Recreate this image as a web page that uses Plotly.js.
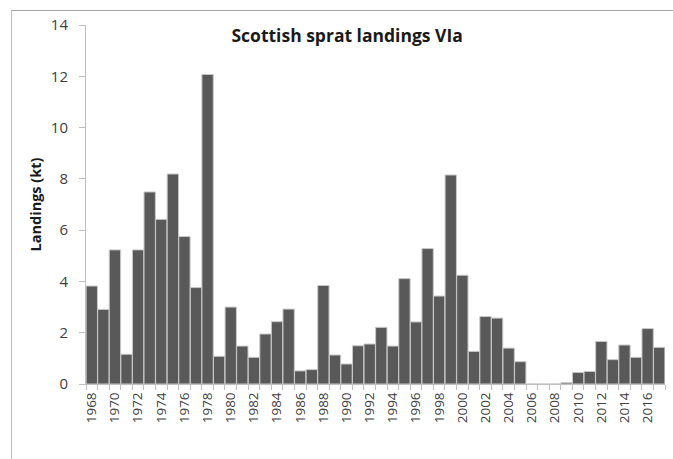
<!DOCTYPE html>
<html>
<head>
<meta charset="utf-8">
<script src="https://cdn.plot.ly/plotly-3.0.1.min.js"></script>
<style>
html,body{margin:0;padding:0;background:#fff;}
#frame{position:absolute;left:11px;top:10px;width:700px;height:500px;border-top:1px solid #a6a6a6;border-left:1px solid #bfbfbf;box-sizing:border-box;pointer-events:none;z-index:5;}
#chart{position:absolute;left:0;top:0;width:673px;height:459px;}
</style>
</head>
<body>
<div id="chart"></div>
<div id="frame"></div>
<script>
const years = [1968,1969,1970,1971,1972,1973,1974,1975,1976,1977,1978,1979,1980,1981,1982,1983,1984,1985,1986,1987,1988,1989,1990,1991,1992,1993,1994,1995,1996,1997,1998,1999,2000,2001,2002,2003,2004,2005,2006,2007,2008,2009,2010,2011,2012,2013,2014,2015,2016,2017];
const landings = [3.82,2.91,5.23,1.16,5.23,7.49,6.42,8.19,5.75,3.76,12.07,1.08,3.0,1.48,1.04,1.95,2.43,2.92,0.51,0.56,3.84,1.13,0.78,1.49,1.56,2.21,1.48,4.11,2.42,5.28,3.43,8.15,4.24,1.27,2.63,2.57,1.40,0.87,0,0,0,0.05,0.45,0.49,1.66,0.95,1.52,1.04,2.16,1.43];
const tickYears = years.filter(y => (y - 1968) % 2 === 0);
const tickText = tickYears.map(String);
const chartTitle = "Scottish sprat landings VIa";
const yTitle = "Landings (kt)";

const trace = {
  type: 'bar',
  x: years,
  y: landings,
  marker: {color: '#595959', line: {color: '#c8c8c8', width: 1}},
  hoverinfo: 'x+y'
};

const layout = {
  width: 673, height: 459,
  margin: {l: 86, r: 8, t: 25, b: 75},
  paper_bgcolor: '#ffffff',
  plot_bgcolor: '#ffffff',
  bargap: 0.02,
  showlegend: false,
  font: {family: 'Open Sans, Liberation Sans, sans-serif', color: '#404040'},
  title: {
    text: '<b>' + chartTitle + '</b>',
    font: {family: 'Open Sans, sans-serif', size: 17.5, color: '#1a1a1a'},
    x: 0.451, xanchor: 'center', y: 0.921, yanchor: 'middle', xref: 'paper'
  },
  xaxis: {
    range: [1967.5, 2017.5],
    tickmode: 'array',
    tickvals: tickYears,
    ticktext: tickText,
    tickangle: -90,
    ticks: '',
    ticklabelstandoff: 2,
    tickfont: {size: 13.5, color: '#404040'},
    showline: true, linecolor: '#bfbfbf', linewidth: 1,
    showgrid: false, zeroline: false,
    minor: {tick0: 1967.5, dtick: 1, ticks: 'outside', ticklen: 5, tickcolor: '#bfbfbf', showgrid: false}
  },
  yaxis: {
    range: [0, 14],
    dtick: 2,
    ticks: 'outside', ticklen: 6, tickcolor: '#bfbfbf',
    ticklabelstandoff: 8,
    tickfont: {size: 15, color: '#404040'},
    showline: true, linecolor: '#bfbfbf', linewidth: 1,
    showgrid: false, zeroline: false,
    title: {text: '<b>' + yTitle + '</b>', font: {size: 14.5, color: '#1a1a1a'}, standoff: 5}
  }
};

Plotly.newPlot('chart', [trace], layout, {displayModeBar: false, staticPlot: true});
</script>
</body>
</html>
